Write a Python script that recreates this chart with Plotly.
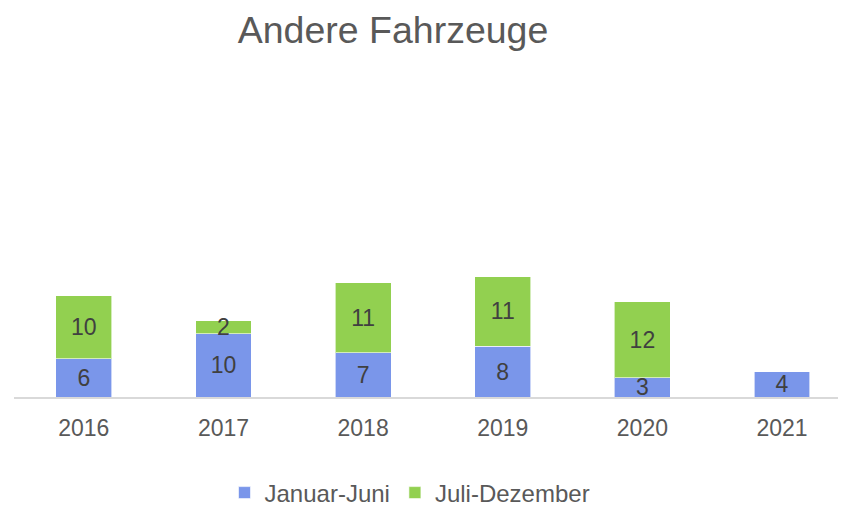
import plotly.graph_objects as go

years = ["2016", "2017", "2018", "2019", "2020", "2021"]
jan_jun = [6, 10, 7, 8, 3, 4]
jul_dez = [10, 2, 11, 11, 12, None]
series_names = ["Januar-Juni", "Juli-Dezember"]
colors = ["#7A96EA", "#92D050"]
title_text = "Andere Fahrzeuge"

# the page body adds an 8px offset; figure is sized so it ends at the window edge
W, H = 838, 500
font_family = "Liberation Sans, Arial, sans-serif"

fig = go.Figure()
for name, vals, col in zip(series_names, [jan_jun, jul_dez], colors):
    fig.add_trace(go.Bar(
        x=years, y=vals, name=name,
        marker=dict(color=col, line=dict(color="rgba(255,255,255,0.6)", width=1)),
        width=0.4,
        texttemplate="%{y}", textposition="inside", insidetextanchor="middle",
        textangle=0, constraintext="none",
        textfont=dict(color="#404040", size=23, family=font_family),
    ))

fig.update_layout(
    width=W, height=H,
    barmode="stack",
    paper_bgcolor="white", plot_bgcolor="white",
    margin=dict(l=6, r=0, t=71.5, b=111, autoexpand=False),
    font=dict(family=font_family, color="#595959", size=23),
    title=dict(text=title_text, x=385 / W, xanchor="center", xref="container",
               y=1 - 22 / H, yanchor="middle", yref="container", automargin=False,
               font=dict(size=37.5, color="#595959", family=font_family)),
    uniformtext=dict(minsize=23, mode="show"),
    legend=dict(orientation="h", x=402 / W, xanchor="center", xref="container",
                y=1 - 485 / H, yanchor="middle", yref="container",
                font=dict(size=24, color="#595959"),
                traceorder="normal", itemclick=False),
    showlegend=True,
)
fig.update_xaxes(type="category", range=[-0.5, 5.458], showline=True, linecolor="#D9D9D9",
                 linewidth=1.5, ticks="", showgrid=False, tickfont=dict(size=23, color="#595959"),
                 ticklabelstandoff=10, automargin=False)
fig.update_yaxes(range=[0, 50], visible=False, showgrid=False, automargin=False)

fig.write_html("out.html")
